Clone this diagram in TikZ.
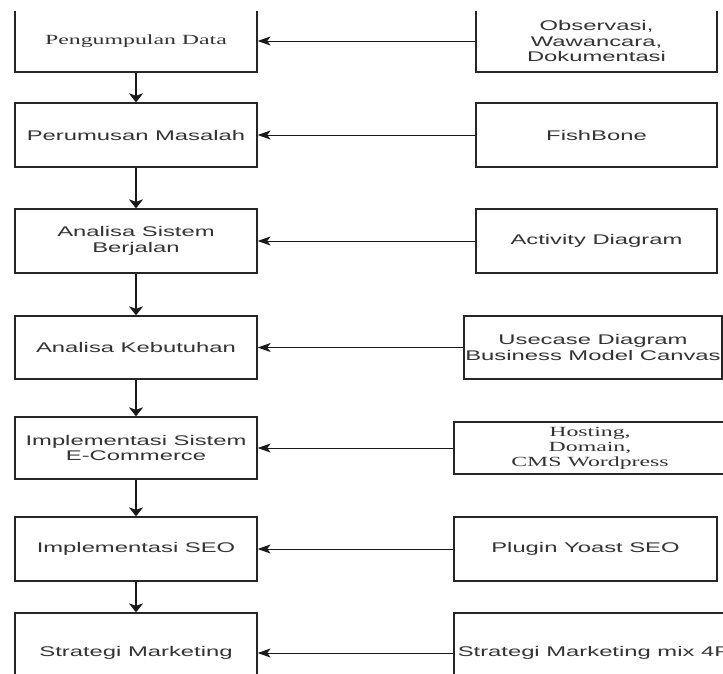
\documentclass[tikz,border=0pt]{standalone}
\usepackage{fontspec}
\setmainfont{Liberation Sans}[FakeStretch=1.7]
\newfontfamily\timesw{Liberation Serif}[FakeStretch=1.7]
\usetikzlibrary{arrows.meta}

\begin{document}
\begin{tikzpicture}[x=1pt,y=-1pt,
    box/.style={draw=black!85, line width=1.3pt, align=center, text=black!80,
        font=\fontsize{14}{15.5}\selectfont, inner sep=0pt},
    stepL/.style={box, minimum width=242pt},
    down/.style={-{Stealth[length=9pt,width=14pt,inset=2.5pt]}, line width=1.5pt, draw=black!90},
    harr/.style={-{Stealth[length=13pt,width=9pt,inset=3.5pt]}, line width=1pt, draw=black!90}]
    \useasboundingbox (0,0) rectangle (723,673);
    \fill[white] (0,0) rectangle (723,673);
    \clip (0,11) rectangle (723,673);

    % langkah penelitian
    \node[stepL, minimum height=62pt] (pd) at (136,41) {\timesw Pengumpulan Data};
    \node[stepL, minimum height=64pt] (pm) at (136,135) {Perumusan Masalah};
    \node[stepL, minimum height=64pt] (asb) at (136,241) {Analisa Sistem\\Berjalan};
    \node[stepL, minimum height=63pt] (ak) at (136,347.5) {Analisa Kebutuhan};
    \node[stepL, minimum height=62pt] (ise) at (136,448) {Implementasi Sistem\\E-Commerce};
    \node[stepL, minimum height=64pt] (iseo) at (136,549) {Implementasi SEO};
    \node[stepL, minimum height=80pt] (sm) at (136,653) {Strategi Marketing};

    % metode / alat
    \node[box, minimum width=241pt, minimum height=62pt] (obs) at (596.5,41) {Observasi,\\Wawancara,\\Dokumentasi};
    \node[box, minimum width=241pt, minimum height=64pt] (fb) at (596.5,135) {FishBone};
    \node[box, minimum width=241pt, minimum height=64pt] (ad) at (596.5,241) {Activity Diagram};
    \node[box, minimum width=258pt, minimum height=63pt] (uc) at (593,347.5) {Usecase Diagram\\Business Model Canvas};
    \node[box, minimum width=272pt, minimum height=52pt, font=\timesw\fontsize{14}{15}\selectfont] (host) at (590,448) {Hosting,\\Domain,\\CMS Wordpress};
    \node[box, minimum width=263pt, minimum height=64pt] (yoast) at (585.5,549) {Plugin Yoast SEO};
    \node[box, minimum width=280pt, minimum height=80pt] (mix) at (594,653) {Strategi Marketing mix 4P};

    \foreach \a/\b in {pd/pm, pm/asb, asb/ak, ak/ise, ise/iseo, iseo/sm}
        \draw[down] (\a) -- (\b);
    \foreach \a/\b in {obs/pd, fb/pm, ad/asb, uc/ak, host/ise, yoast/iseo, mix/sm}
        \draw[harr] (\a) -- (\b);
\end{tikzpicture}
\end{document}
